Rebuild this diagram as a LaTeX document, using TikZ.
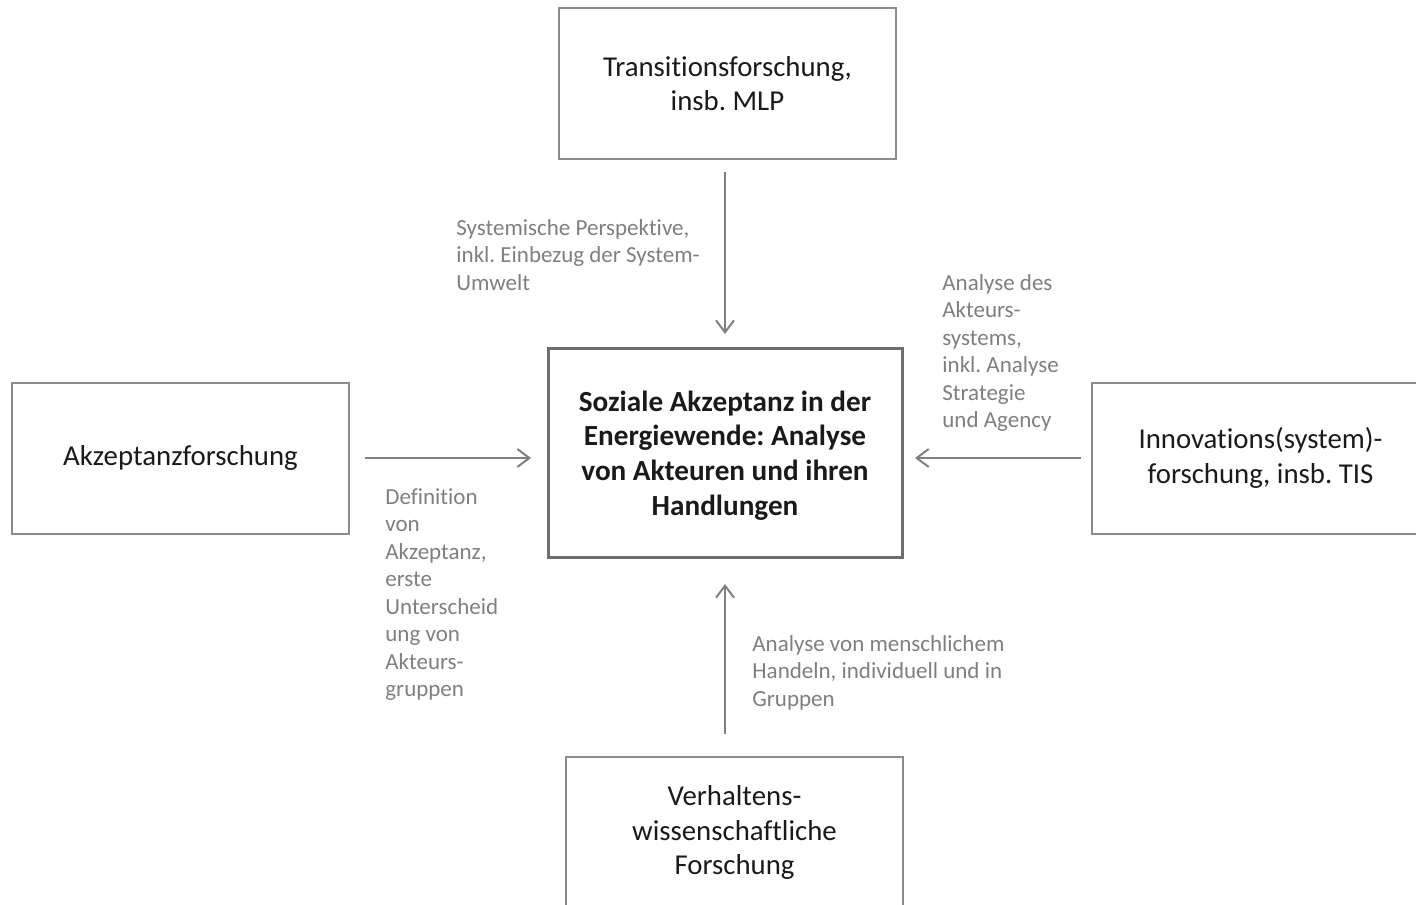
\documentclass[tikz,border=0pt]{standalone}
\usepackage{fontspec}
\setmainfont[Ligatures={NoCommon}]{Carlito}
\usetikzlibrary{arrows.meta}
\frenchspacing

\definecolor{boxgray}{HTML}{8C8C8C}
\definecolor{framegray}{HTML}{6E6E6E}
\definecolor{arrowgray}{HTML}{808080}
\definecolor{labelgray}{HTML}{7F7F7F}
\definecolor{textblack}{HTML}{1A1A1A}

\tikzset{
  field/.style={draw=boxgray, line width=1pt, minimum width=168.5pt, minimum height=75.5pt,
    align=center, inner sep=0pt, text=textblack, font=\fontsize{14.4}{17.2}\selectfont},
  focus/.style={draw=framegray, line width=1.5pt, minimum width=177pt, minimum height=104.5pt,
    align=center, inner sep=0pt, text=textblack, font=\fontsize{14.6}{17.3}\selectfont\bfseries},
  link/.style={draw=arrowgray, line width=1pt, -{Straight Barb[length=6pt,width=9pt]}},
  remark/.style={anchor=north west, align=left, inner sep=0pt, text=labelgray,
    font=\fontsize{11.5}{13.75}\selectfont},
}

\begin{document}
\begin{tikzpicture}[x=0.5pt, y=-0.5pt]
    \useasboundingbox (0,0) rectangle (1416,904);
    \clip (0,0) rectangle (1416,904);

    % Central box
    \node[focus] (soziale) at (725,452.5) {};
    \node[align=center, text=textblack, font=\fontsize{14.6}{17.3}\selectfont\bfseries] (sozialetext) at (725,455.5) {Soziale Akzeptanz in der\\Energiewende: Analyse\\von Akteuren und ihren\\Handlungen};

    % Research fields
    \node[field] (transition) at (727.5,83.5) {Transitionsforschung,\\insb. MLP};
    \node[field] (akzeptanz) at (180.5,458) {Akzeptanzforschung};
    \node[field] (innovation) at (1260.5,458) {Innovations(system)-\\forschung, insb. TIS};
    \node[field] (verhalten) at (734.5,832.5) {Verhaltens-\\wissenschaftliche\\Forschung};

    % Contributions
    \draw[link, shorten <=6pt, shorten >=6.25pt] (soziale.north |- transition.south) -- (soziale.north);
    \draw[link, shorten <=7.5pt, shorten >=7.75pt] (akzeptanz.east) -- (akzeptanz.east -| soziale.west);
    \draw[link, shorten <=5pt, shorten >=5.75pt] (innovation.west) -- (innovation.west -| soziale.east);
    \draw[link, shorten <=11pt, shorten >=12.75pt] (soziale.south |- verhalten.north) -- (soziale.south);

    % Labels
    \node[remark] (lblsystem) at (456,219) {Systemische Perspektive,\\inkl. Einbezug der System-\\Umwelt};
    \node[remark] (lblakteur) at (942,274) {Analyse des\\Akteurs-\\systems,\\inkl. Analyse\\Strategie\\und Agency};
    \node[remark] (lbldefinition) at (385,488) {Definition\\von\\Akzeptanz,\\erste\\Unterscheid\\ung von\\Akteurs-\\gruppen};
    \node[remark] (lblhandeln) at (752,635) {Analyse von menschlichem\\Handeln, individuell und in\\Gruppen};
\end{tikzpicture}
\end{document}
